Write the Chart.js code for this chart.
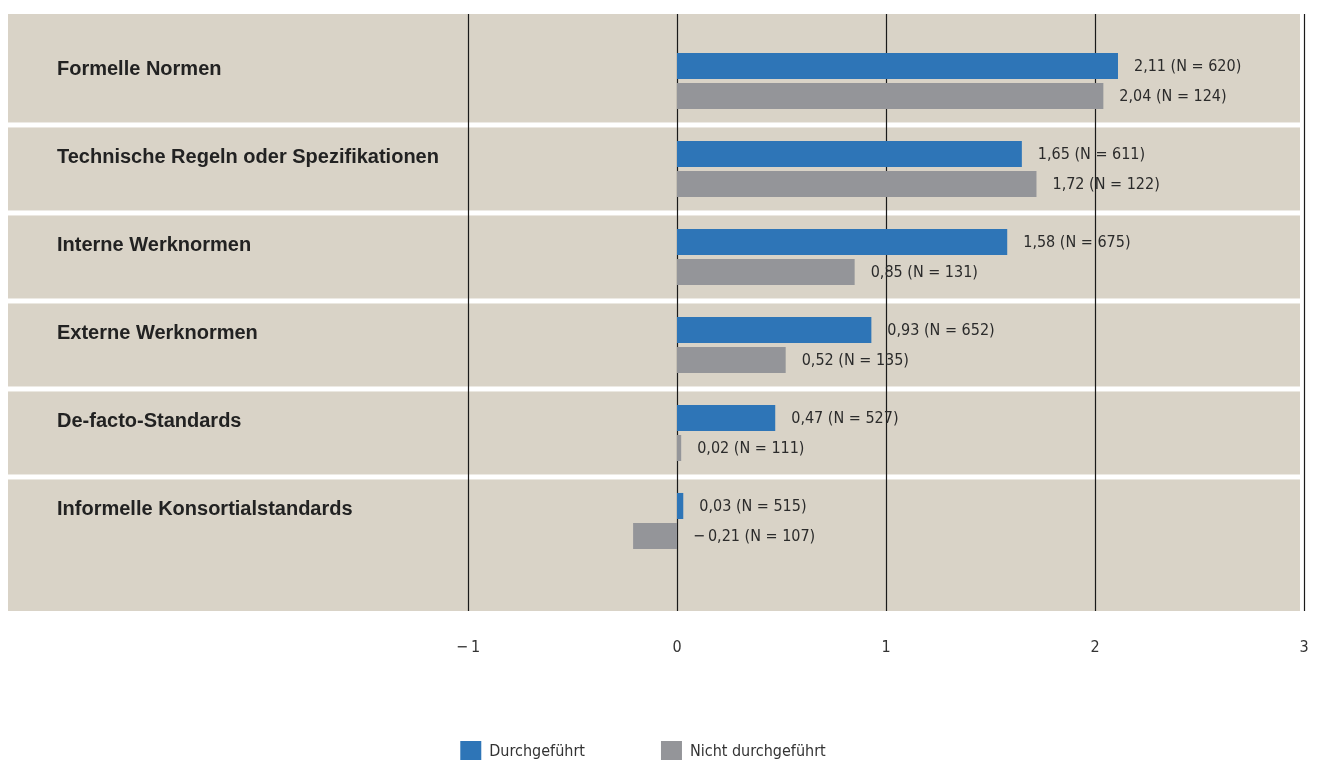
<!DOCTYPE html>
<html lang="de">
<head>
<meta charset="utf-8">
<title>Normen und Standards</title>
<script src="https://cdn.jsdelivr.net/npm/chart.js@4.4.1/dist/chart.umd.min.js"></script>
<style>
  html, body { margin: 0; padding: 0; background: #fff; overflow: hidden; }
  /* canvas sits 18px further left so the centred legend lands where it should */
  #wrap { width: 1337px; height: 772px; margin-left: -18px; position: relative; }
</style>
</head>
<body>
<div id="wrap"><canvas id="normChart"></canvas></div>
<script>
const categories = [
  'Formelle Normen',
  'Technische Regeln oder Spezifikationen',
  'Interne Werknormen',
  'Externe Werknormen',
  'De-facto-Standards',
  'Informelle Konsortialstandards'
];
const durchgefuehrt = [2.11, 1.65, 1.58, 0.93, 0.47, 0.03];
const nichtDurchgefuehrt = [2.04, 1.72, 0.85, 0.52, 0.02, -0.21];
const nDurchgefuehrt = [620, 611, 675, 652, 527, 515];
const nNicht = [124, 122, 131, 135, 111, 107];
const xTicks = [-1, 0, 1, 2, 3];

const OFF = 18;            // canvas offset to the page
const BLUE = '#2E75B7';
const GREY = '#949599';
const PANEL = '#D9D3C7';
const cond = '"DejaVu Sans Condensed", "Liberation Sans Narrow", sans-serif';

function fmt(v) {
  const s = Math.abs(v).toFixed(2).replace('.', ',');
  return v < 0 ? '\u2212\u2009' + s : s;
}

const panels = {
  id: 'panels',
  // beige rows and black vertical lines, under everything else
  beforeDraw(chart) {
    const ctx = chart.ctx;
    const y = chart.scales.y, x = chart.scales.x;
    const top0 = chart.chartArea.top, bot0 = chart.chartArea.bottom;
    ctx.save();
    ctx.fillStyle = PANEL;
    categories.forEach((c, i) => {
      const top = i === 0 ? top0 : y.getPixelForValue(i - 0.5) + 2.5;
      const bot = i === categories.length - 1 ? bot0 : y.getPixelForValue(i + 0.5) - 2.5;
      ctx.fillRect(8 + OFF, top, 1292, bot - top);
    });
    ctx.strokeStyle = '#1a1a1a';
    ctx.lineWidth = 1.2;
    xTicks.forEach(t => {
      const px = Math.round(x.getPixelForValue(t)) + 0.5;
      ctx.beginPath();
      ctx.moveTo(px, top0);
      ctx.lineTo(px, bot0);
      ctx.stroke();
    });
    ctx.restore();
  },
  afterDatasetsDraw(chart) {
    const ctx = chart.ctx;
    const x = chart.scales.x;
    ctx.save();
    ctx.textBaseline = 'middle';
    ctx.fillStyle = '#222';
    ctx.font = 'bold 20px "Liberation Sans", Arial, sans-serif';
    const blueBars = chart.getDatasetMeta(0).data;
    categories.forEach((c, i) => {
      ctx.fillText(c, 57 + OFF, blueBars[i].y + 3.5);
    });
    ctx.fillStyle = '#2b2b2b';
    ctx.font = '16px ' + cond;
    const ns = [nDurchgefuehrt, nNicht];
    const vals = [durchgefuehrt, nichtDurchgefuehrt];
    vals.forEach((arr, d) => {
      chart.getDatasetMeta(d).data.forEach((bar, i) => {
        const v = arr[i];
        const px = x.getPixelForValue(Math.max(v, 0)) + 16;
        ctx.fillText(fmt(v) + ' (N = ' + ns[d][i] + ')', px, bar.y + 1);
      });
    });
    ctx.restore();
  }
};

new Chart(document.getElementById('normChart'), {
  type: 'bar',
  data: {
    datasets: [
      {
        label: 'Durchgeführt',
        data: durchgefuehrt.map((v, i) => ({ x: v, y: i })),
        backgroundColor: BLUE
      },
      {
        label: 'Nicht durchgeführt',
        data: nichtDurchgefuehrt.map((v, i) => ({ x: v, y: i })),
        backgroundColor: GREY
      }
    ]
  },
  options: {
    indexAxis: 'y',
    responsive: true,
    maintainAspectRatio: false,
    animation: false,
    categoryPercentage: 0.682,
    barPercentage: 0.867,
    layout: { padding: { left: 0, right: 15, top: 14, bottom: 0 } },
    scales: {
      x: {
        min: -1,
        max: 3,
        grid: { display: false, drawTicks: false },
        border: { display: false },
        ticks: {
          stepSize: 1,
          padding: 7,
          color: '#333',
          font: { family: cond, size: 16, lineHeight: '20px' },
          // empty first line pushes the numbers down below the rows
          callback: v => ['', v < 0 ? '\u2212\u2009' + Math.abs(v) : String(v)]
        },
        afterFit(scale) { scale.paddingLeft = 0; scale.paddingRight = 0; }
      },
      y: {
        type: 'linear',
        reverse: true,
        offset: false,
        min: -0.761,
        max: 6.023,
        grid: { display: false },
        border: { display: false },
        ticks: { display: false, stepSize: 1, includeBounds: false },
        afterFit(scale) { scale.width = 468 + OFF; }
      }
    },
    plugins: {
      tooltip: { enabled: false },
      legend: {
        position: 'bottom',
        labels: {
          boxWidth: 21,
          boxHeight: 21,
          padding: 76,
          color: '#333',
          font: { family: cond, size: 16 }
        }
      }
    }
  },
  plugins: [panels]
});
</script>
</body>
</html>
